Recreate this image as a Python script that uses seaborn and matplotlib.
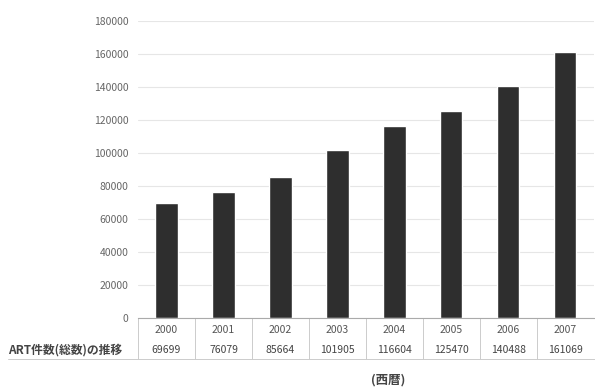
import matplotlib
matplotlib.use("Agg")
import matplotlib.pyplot as plt
import matplotlib.transforms as mtransforms
import seaborn as sns
import pandas as pd

# data
years = ["2000", "2001", "2002", "2003", "2004", "2005", "2006", "2007"]
counts = [69699, 76079, 85664, 101905, 116604, 125470, 140488, 161069]
yticks = [0, 20000, 40000, 60000, 80000, 100000, 120000, 140000, 160000, 180000]
row_label = "ART件数(総数)の推移"
x_label = "(西暦)"

df = pd.DataFrame({"year": years, "count": counts})

sns.set_style("white")
plt.rcParams["font.family"] = ["Noto Sans CJK JP", "DejaVu Sans"]

fig = plt.figure(figsize=(5.95, 3.9), dpi=100)
ax = fig.add_axes([0.232, 0.1846, 0.766, 0.7615])

sns.barplot(data=df, x="year", y="count", color="#2e2e2e",
            width=0.39, saturation=1, ax=ax)

ax.set_xlim(-0.5, len(years) - 0.5)
ax.set_ylim(0, 180000)
ax.set_yticks(yticks)
ax.set_yticklabels([str(v) for v in yticks], fontsize=7.5, color="#666666")
ax.yaxis.grid(True, color="#e6e6e6", linewidth=0.8)
ax.set_axisbelow(True)
ax.tick_params(axis="y", length=0, pad=7)
ax.tick_params(axis="x", length=0, labelbottom=False)
ax.set_xlabel("")
ax.set_ylabel("")
for side in ["top", "right", "left"]:
    ax.spines[side].set_visible(False)
ax.spines["bottom"].set_color("#aaaaaa")
ax.spines["bottom"].set_linewidth(0.8)

# data table under the bars
tr = mtransforms.blended_transform_factory(ax.transData, fig.transFigure)
y_year = (390 - 330) / 390
y_val = (390 - 350) / 390
y_bottom = (390 - 359) / 390
y_top = (390 - 318) / 390

for i, (yr, c) in enumerate(zip(years, counts)):
    ax.text(i, y_year, yr, transform=tr, ha="center", va="center",
            fontsize=7.5, color="#555555", clip_on=False)
    ax.text(i, y_val, str(c), transform=tr, ha="center", va="center",
            fontsize=7.5, color="#444444", clip_on=False)

for b in range(0, len(years)):
    ax.plot([b - 0.5, b - 0.5], [y_top, y_bottom], transform=tr,
            color="#cccccc", linewidth=0.7, clip_on=False)

fig.add_artist(plt.Line2D([8 / 595, 1.0], [y_bottom, y_bottom],
                          color="#cccccc", linewidth=0.7))

fig.text(8 / 595, y_val, row_label, ha="left", va="center",
         fontsize=8.5, color="#444444", fontweight="bold")
fig.text(388 / 595, (390 - 380) / 390, x_label, ha="center", va="center",
         fontsize=9, color="#444444", fontweight="bold")

fig.savefig("out.png", dpi=100, facecolor="white")
